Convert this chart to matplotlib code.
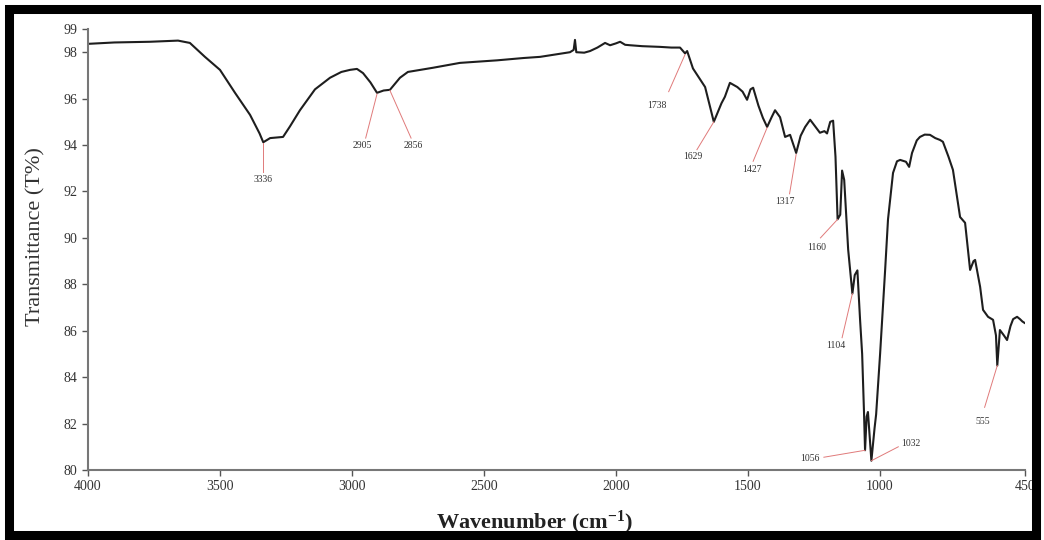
import numpy as np
import matplotlib
matplotlib.use("Agg")
import matplotlib.pyplot as plt
from matplotlib.patches import Rectangle

plt.rcParams['font.family'] = ['Liberation Serif', 'DejaVu Serif']
plt.rcParams['mathtext.fontset'] = 'custom'
plt.rcParams['mathtext.bf'] = 'Liberation Serif:bold'
plt.rcParams['mathtext.rm'] = 'Liberation Serif'
plt.rcParams['mathtext.default'] = 'bf'

# FTIR spectrum (wavenumber cm-1, transmittance %)
wavenumber = [4000, 3900, 3765, 3659, 3614, 3557, 3500, 3443, 3386, 3350,
              3336, 3310, 3261, 3235, 3197, 3140, 3083, 3040, 3007, 2981,
              2958, 2930, 2905, 2880, 2856, 2818, 2788, 2693, 2591, 2450,
              2350, 2287, 2174, 2160, 2155, 2150, 2120, 2098, 2070, 2041,
              2022, 2000, 1984, 1965, 1946, 1900, 1833, 1790, 1757, 1738,
              1730, 1708, 1662, 1629, 1600, 1587, 1568, 1540, 1520, 1503,
              1490, 1480, 1460, 1443, 1427, 1410, 1397, 1378, 1359, 1340,
              1317, 1300, 1283, 1264, 1245, 1227, 1210, 1200, 1188, 1177,
              1168, 1160, 1150, 1143, 1135, 1120, 1104, 1095, 1085, 1075,
              1067, 1060, 1056, 1050, 1045, 1032, 1020, 1014, 999, 980,
              969, 950, 935, 923, 901, 889, 878, 860, 848, 830,
              810, 790, 772, 761, 740, 723, 696, 677, 658, 645,
              639, 620, 609, 590, 571, 560, 555, 545, 530, 518,
              505, 495, 480, 469, 460, 452]
transmittance = [98.36, 98.42, 98.45, 98.5, 98.4, 97.8, 97.24, 96.25, 95.3, 94.5,
                 94.12, 94.3, 94.35, 94.8, 95.5, 96.4, 96.9, 97.15, 97.24, 97.28,
                 97.1, 96.7, 96.25, 96.35, 96.38, 96.9, 97.15, 97.33, 97.54, 97.65,
                 97.75, 97.8, 98.0, 98.1, 98.53, 98.0, 97.98, 98.05, 98.2, 98.4,
                 98.3, 98.38, 98.45, 98.32, 98.3, 98.26, 98.23, 98.2, 98.2, 97.95,
                 98.05, 97.3, 96.5, 95.0, 95.8, 96.08, 96.68, 96.5, 96.3, 95.95,
                 96.4, 96.47, 95.7, 95.17, 94.78, 95.2, 95.5, 95.2, 94.35, 94.44,
                 93.66, 94.4, 94.78, 95.09, 94.8, 94.53, 94.6, 94.5, 95.0, 95.05,
                 93.5, 90.8, 91.0, 92.9, 92.5, 89.5, 87.6, 88.4, 88.6, 86.5,
                 85.0, 82.5, 80.85, 82.3, 82.5, 80.4, 81.8, 82.4, 85.0, 88.6,
                 90.8, 92.8, 93.3, 93.36, 93.28, 93.06, 93.66, 94.2, 94.35, 94.45,
                 94.44, 94.3, 94.22, 94.14, 93.5, 92.93, 90.9, 90.65, 88.62, 89.0,
                 89.05, 87.89, 86.9, 86.6, 86.47, 85.8, 84.5, 86.03, 85.8, 85.6,
                 86.2, 86.5, 86.6, 86.5, 86.4, 86.34]

# labelled bands
peak_labels = ['3336', '2905', '2856', '1738', '1629', '1427', '1317',
               '1160', '1104', '1056', '1032', '555']
peak_wn = [3336, 2905, 2856, 1738, 1629, 1427, 1317, 1160, 1104, 1056, 1032, 555]
peak_t = [94.1, 96.2, 96.35, 97.9, 95.0, 94.75, 93.6, 90.8, 87.6, 80.85, 80.4, 84.5]
# where each leader line ends and the label sits
line_end_wn = [3336, 2948, 2776, 1800, 1693, 1480, 1342, 1225, 1143, 1212, 930, 603]
line_end_t = [92.85, 94.3, 94.3, 96.3, 93.8, 93.3, 91.9, 90.0, 85.7, 80.55, 81.0, 82.7]
text_wn = [3336, 2959, 2769, 1845, 1708, 1484, 1359, 1238, 1166, 1265, 882, 609]
text_t = [92.5, 93.96, 93.96, 95.7, 93.5, 92.93, 91.55, 89.6, 85.35, 80.5, 81.16, 82.07]

yticks = [80, 82, 84, 86, 88, 90, 92, 94, 96, 98, 99]
xticks = [4000, 3500, 3000, 2500, 2000, 1500, 1000, 450]

fig = plt.figure(figsize=(10.44, 5.4), dpi=100)
ax = fig.add_axes([88/1044, 1-470/540, (1025-88)/1044, (470-29)/540])

ax.plot(wavenumber, transmittance, color='#1e1e1e', lw=1.5)

for i in range(len(peak_labels)):
    ax.plot([peak_wn[i], line_end_wn[i]], [peak_t[i], line_end_t[i]],
            color='#e07a7a', lw=0.7)
    ax.text(text_wn[i], text_t[i], peak_labels[i], fontsize=7, color='#333333',
            ha='center', va='center')

ax.set_xlim(4000, 450)
ax.set_ylim(80, 99)
ax.set_xticks(xticks)
ax.set_yticks(yticks)
ax.tick_params(direction='out', length=4, width=1, colors='#555555',
               labelcolor='#333333', labelsize=10)
for s in ['top', 'right']:
    ax.spines[s].set_visible(False)
for s in ['left', 'bottom']:
    ax.spines[s].set_color('#777777')
    ax.spines[s].set_linewidth(1.5)

ax.set_xlabel('Wavenumber (cm$^{-1}$)', fontsize=16, fontweight='bold',
              color='#222222')
ax.xaxis.set_label_coords(0.477, -0.088)
ax.set_ylabel('Transmittance (T%)', fontsize=16, color='#333333')
ax.yaxis.set_label_coords(-0.045, 0.53)

# thick black frame round the whole picture
fig.add_artist(Rectangle((9/1044, 5/540), 1027/1044, 526/540,
                         transform=fig.transFigure, fill=False,
                         edgecolor='black', lw=6.5))

fig.savefig('out.png', dpi=100)
